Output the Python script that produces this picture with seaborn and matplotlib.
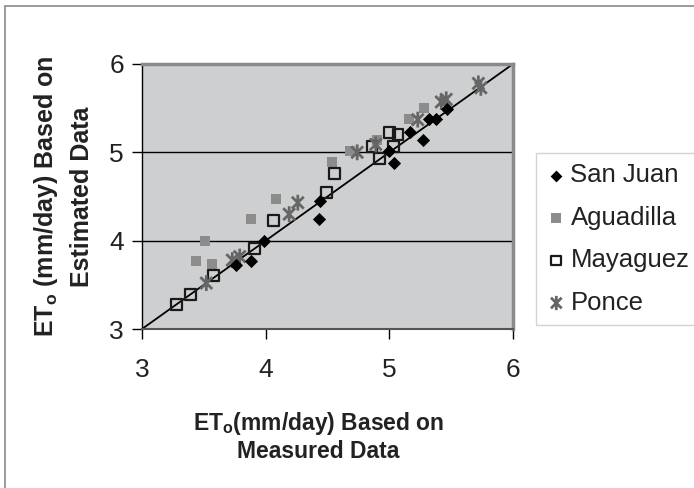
import matplotlib
matplotlib.use("Agg")
import matplotlib.pyplot as plt
import seaborn as sns
from matplotlib.path import Path
from matplotlib.patches import Rectangle

# measured vs estimated ETo (mm/day) per station
san_juan_x = [3.76, 3.88, 3.99, 4.43, 4.44, 5.00, 5.04, 5.17, 5.27, 5.32, 5.38, 5.47]
san_juan_y = [3.72, 3.77, 4.00, 4.25, 4.45, 5.02, 4.88, 5.23, 5.14, 5.38, 5.38, 5.49]

aguadilla_x = [3.44, 3.51, 3.57, 3.88, 4.08, 4.54, 4.68, 4.90, 5.16, 5.28, 5.44]
aguadilla_y = [3.77, 4.00, 3.74, 4.25, 4.47, 4.89, 5.02, 5.14, 5.38, 5.50, 5.58]

mayaguez_x = [3.28, 3.39, 3.58, 3.91, 4.06, 4.49, 4.56, 4.92, 4.86, 5.00, 5.07, 5.03]
mayaguez_y = [3.28, 3.39, 3.61, 3.91, 4.23, 4.55, 4.76, 4.93, 5.07, 5.22, 5.20, 5.07]

ponce_x = [3.52, 3.73, 3.79, 4.19, 4.26, 4.74, 4.89, 5.23, 5.42, 5.46, 5.72, 5.74]
ponce_y = [3.52, 3.78, 3.82, 4.30, 4.43, 5.00, 5.09, 5.37, 5.57, 5.60, 5.78, 5.73]

ticks = [3, 4, 5, 6]

sns.set_style("white")
plt.rcParams["font.family"] = ["Liberation Sans", "DejaVu Sans"]
plt.rcParams["mathtext.fontset"] = "custom"
plt.rcParams["mathtext.rm"] = "Liberation Sans:bold"

fig = plt.figure(figsize=(6.94, 4.88), dpi=100)
ax = fig.add_axes([0.2046, 0.3258, 0.5346, 0.5431])
ax.set_facecolor("#cecfd1")

# asterisk marker: vertical bar plus an X
star = Path([(0, -1), (0, 1), (-0.75, -0.75), (0.75, 0.75), (-0.75, 0.75), (0.75, -0.75)],
            [Path.MOVETO, Path.LINETO, Path.MOVETO, Path.LINETO, Path.MOVETO, Path.LINETO])

ax.axhline(4, color="black", lw=1, zorder=1)
ax.axhline(5, color="black", lw=1, zorder=1)
sns.lineplot(x=[3, 6], y=[3, 6], color="black", lw=1.3, ax=ax, zorder=2)

sns.scatterplot(x=aguadilla_x, y=aguadilla_y, marker="s", s=62, color="#8c8c8c",
                linewidth=0, ax=ax, label="Aguadilla", zorder=3)
sns.scatterplot(x=mayaguez_x, y=mayaguez_y, marker="s", s=62, facecolor="none",
                edgecolor="#1a1a1a", linewidth=1.6, ax=ax, label="Mayaguez", zorder=4)
sns.scatterplot(x=ponce_x, y=ponce_y, marker=star, s=130, facecolor="none",
                edgecolor="#666666", linewidth=2.0, ax=ax, label="Ponce", zorder=5)
sns.scatterplot(x=san_juan_x, y=san_juan_y, marker="D", s=45, color="black",
                linewidth=0, ax=ax, label="San Juan", zorder=6)

ax.set_xlim(3, 6)
ax.set_ylim(3, 6)
ax.set_xticks(ticks)
ax.set_yticks(ticks)
ax.tick_params(axis="both", direction="out", length=7, width=1, color="black",
               labelsize=19, labelcolor="#222222", bottom=True, left=True)
ax.tick_params(axis="x", pad=14)
ax.tick_params(axis="y", pad=6)

for side in ["top", "right"]:
    ax.spines[side].set_color("#8a8a8a")
    ax.spines[side].set_linewidth(2.5)
ax.spines["left"].set_color("black")
ax.spines["left"].set_linewidth(1)
ax.spines["bottom"].set_color("#555555")
ax.spines["bottom"].set_linewidth(1.5)

ax.set_xlabel("ET$_\\mathrm{o}$(mm/day) Based on\nMeasured Data", fontsize=16.5,
              fontweight="bold", color="#222222", linespacing=1.15)
ax.set_ylabel("ET$_\\mathrm{o}$ (mm/day) Based on\nEstimated Data", fontsize=18,
              fontweight="bold", color="#222222", linespacing=1.5)
ax.xaxis.set_label_coords(0.475, -0.305)
ax.yaxis.set_label_coords(-0.13, 0.5)

handles, labels = ax.get_legend_handles_labels()
order = [labels.index(n) for n in ["San Juan", "Aguadilla", "Mayaguez", "Ponce"]]
leg = ax.legend([handles[i] for i in order], [labels[i] for i in order],
                loc="upper left", bbox_to_anchor=(0.772, 0.6865),
                bbox_transform=fig.transFigure, borderaxespad=0, fontsize=18.5,
                frameon=True, fancybox=False, edgecolor="#c8c8c8",
                handletextpad=0.15, handlelength=0.8, labelspacing=0.72,
                borderpad=0.4, markerscale=0.9)
leg.get_frame().set_linewidth(1)
for t in leg.get_texts():
    t.set_color("#222222")

# outer chart border
fig.patches.append(Rectangle((0.0065, -0.2), 1.2, 1.1877, transform=fig.transFigure,
                             fill=False, edgecolor="#8a8a8a", lw=1.2))

fig.savefig("out.png", dpi=100)
